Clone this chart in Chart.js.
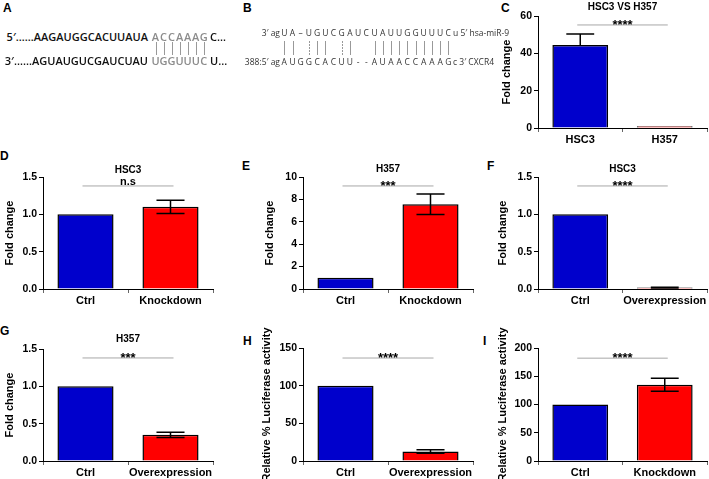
<!DOCTYPE html>
<html>
<head>
<meta charset="utf-8">
<script src="https://cdn.jsdelivr.net/npm/chart.js@4.4.1/dist/chart.umd.min.js"></script>
<style>
	body { margin: 0; background: #fff; }
	#fig { position: relative; width: 709px; height: 479px; overflow: hidden; font-family: "Liberation Sans", Arial, sans-serif; }
	#fig canvas { position: absolute; }
	.lab { position: absolute; font-weight: bold; font-size: 12px; line-height: 12px; }
	.seq { position: absolute; font-family: "Open Sans", sans-serif; font-weight: 600; font-size: 11px; line-height: 12px; white-space: nowrap; color: #111; }
	.mir { position: absolute; font-family: "Open Sans", sans-serif; font-size: 8.5px; line-height: 10px; white-space: nowrap; color: #333; }
	.bar { position: absolute; width: 1px; background: #999; }
</style>
</head>
<body>
<div id="fig">
	<div class="lab" style="left:3px;top:2px">A</div>
	<div class="lab" style="left:243px;top:2px">B</div>
	<div class="lab" style="left:501px;top:2px">C</div>
	<div class="lab" style="left:0px;top:150px">D</div>
	<div class="lab" style="left:242px;top:160px">E</div>
	<div class="lab" style="left:487px;top:160px">F</div>
	<div class="lab" style="left:0px;top:325px">G</div>
	<div class="lab" style="left:243px;top:335px">H</div>
	<div class="lab" style="left:483px;top:335px">I</div>
</div>
<script>
// panel C: miR-9 level in the two cell lines
const cellLines = ['HSC3', 'H357'];
const foldC = [44.5, 1.0];
const sdC = [5.9, 0];

// panels D-I
const kdLabels = ['Ctrl', 'Knockdown'];
const oeLabels = ['Ctrl', 'Overexpression'];
const foldD = [1.0, 1.1];
const sdD = [0, 0.09];
const foldE = [1.0, 7.57];
const sdE = [0, 0.92];
const foldF = [1.0, 0.02];
const sdF = [0, 0.005];
const foldG = [1.0, 0.35];
const sdG = [0, 0.035];
const lucH = [100, 12.5];
const sdH = [0, 2.3];
const lucI = [100, 135];
const sdI = [0, 11.5];

// significance marks and the height of their line (axis units)
const sigText = ['****', 'n.s', '***', '****', '***', '****', '****'];
const sigLevel = [55.2, 1.38, 9.2, 1.38, 1.38, 136.7, 182];

// y axis ranges
const yMax = [60, 1.5, 10, 1.5, 1.5, 150, 200];
const yStep = [20, 0.5, 2, 0.5, 0.5, 50, 50];

const BLUE = '#0000CC';
const RED = '#FF0000';
const FONT = 'Liberation Sans';

const panels = [
	{ left: 495, top: 0, w: 214, h: 150, labels: cellLines, data: foldC, sd: sdC, title: 'HSC3 VS H357', tPad: [1, 3], yTitle: 'Fold change', yPad: 5.4, upOnly: true },
	{ left: 0, top: 157, w: 215, h: 154, labels: kdLabels, data: foldD, sd: sdD, title: 'HSC3', tPad: [7, 1], yTitle: 'Fold change', yPad: 3.4, dec: 1 },
	{ left: 260, top: 156, w: 215, h: 155, labels: kdLabels, data: foldE, sd: sdE, title: 'H357', tPad: [7, 2], yTitle: 'Fold change', yPad: 3.4 },
	{ left: 495, top: 156, w: 214, h: 155, labels: oeLabels, data: foldF, sd: sdF, title: 'HSC3', tPad: [7, 2], yTitle: 'Fold change', yPad: 1.4, dec: 1 },
	{ left: 0, top: 327, w: 215, h: 156, labels: oeLabels, data: foldG, sd: sdG, title: 'H357', tPad: [6, 4], yTitle: 'Fold change', yPad: 3.4, dec: 1 },
	{ left: 260, top: 315, w: 215, h: 168, labels: oeLabels, data: lucH, sd: sdH, title: '', padTop: 33, yTitle: 'Relative % Luciferase activity', yPad: 0.4 },
	{ left: 495, top: 315, w: 214, h: 168, labels: kdLabels, data: lucI, sd: sdI, title: '', padTop: 33, yTitle: 'Relative % Luciferase activity', yPad: 1.4 }
];

function marksPlugin(p, k) {
	return {
		id: 'marks' + k,
		afterDatasetsDraw(chart) {
			const ctx = chart.ctx;
			const x = chart.scales.x, y = chart.scales.y;
			const meta = chart.getDatasetMeta(0);
			ctx.save();
			// error bars
			ctx.strokeStyle = '#000';
			ctx.lineWidth = 1.5;
			p.sd.forEach((e, i) => {
				if (!e) return;
				const bar = meta.data[i];
				const v = p.data[i];
				const half = bar.width * 0.25;
				const yt = y.getPixelForValue(v + e);
				const yb = y.getPixelForValue(p.upOnly ? v : v - e);
				ctx.beginPath();
				ctx.moveTo(bar.x, yb);
				ctx.lineTo(bar.x, yt);
				ctx.moveTo(bar.x - half, yt);
				ctx.lineTo(bar.x + half, yt);
				if (!p.upOnly) {
					ctx.moveTo(bar.x - half, yb);
					ctx.lineTo(bar.x + half, yb);
				}
				ctx.stroke();
			});
			// significance line
			const x0 = x.getPixelForValue(0) - 3;
			const x1 = x.getPixelForValue(1) + 3;
			const ys = y.getPixelForValue(sigLevel[k]);
			ctx.strokeStyle = '#a8a8a8';
			ctx.lineWidth = 1;
			ctx.beginPath();
			ctx.moveTo(x0, ys);
			ctx.lineTo(x1, ys);
			ctx.stroke();
			const stars = sigText[k].startsWith('*');
			ctx.fillStyle = '#000';
			ctx.font = 'bold ' + (stars ? 13 : 11) + 'px "' + FONT + '"';
			ctx.textAlign = 'center';
			ctx.textBaseline = 'alphabetic';
			ctx.fillText(sigText[k], (x0 + x1) / 2, ys + (stars ? 4 : -1));
			ctx.restore();
		}
	};
}

panels.forEach((p, k) => {
	const canvas = document.createElement('canvas');
	canvas.width = p.w;
	canvas.height = p.h;
	canvas.style.left = p.left + 'px';
	canvas.style.top = p.top + 'px';
	document.getElementById('fig').appendChild(canvas);

	new Chart(canvas.getContext('2d'), {
		type: 'bar',
		data: {
			labels: p.labels,
			datasets: [{
				data: p.data,
				backgroundColor: [BLUE, RED],
				borderColor: '#000',
				borderWidth: 1.5,
				barPercentage: 0.66,
				categoryPercentage: 1
			}]
		},
		options: {
			responsive: false,
			animation: false,
			layout: { padding: { top: p.padTop || 0, right: 2, left: 0, bottom: 0 } },
			plugins: {
				legend: { display: false },
				tooltip: { enabled: false },
				title: {
					display: !!p.title,
					text: p.title,
					fullSize: false,
					color: '#000',
					font: { family: FONT, size: 10, weight: 'bold' },
					padding: p.tPad ? { top: p.tPad[0], bottom: p.tPad[1] } : 0
				}
			},
			scales: {
				x: {
					afterFit: s => { s.height = 22; },
					grid: { drawOnChartArea: false, color: '#666', tickLength: 4 },
					border: { color: '#000', width: 1 },
					ticks: {
						color: '#000',
						padding: 1,
						maxRotation: 0,
						minRotation: 0,
						autoSkip: false,
						font: { family: FONT, size: 11, weight: 'bold' }
					}
				},
				y: {
					min: 0,
					max: yMax[k],
					afterFit: s => { s.width = 43; },
					grid: { drawOnChartArea: false, color: '#000', tickLength: 4 },
					border: { color: '#000', width: 1 },
					ticks: {
						stepSize: yStep[k],
						padding: 2,
						color: '#000',
						font: { family: FONT, size: 10.5, weight: 'bold' },
						callback: v => p.dec ? v.toFixed(p.dec) : v
					},
					title: {
						display: true,
						text: p.yTitle,
						color: '#000',
						padding: { top: p.yPad, bottom: 0 },
						font: { family: FONT, size: 11, weight: 'bold' }
					}
				}
			}
		},
		plugins: [marksPlugin(p, k)]
	});
});

// panels A and B: sequence alignments, plain text
const fig = document.getElementById('fig');
function put(cls, text, css) {
	const d = document.createElement('div');
	d.className = cls;
	d.textContent = text;
	Object.assign(d.style, css);
	fig.appendChild(d);
	return d;
}
function centred(cls, text, cx, top, color) {
	put(cls, text, { left: (cx - 10) + 'px', top: top + 'px', width: '20px', textAlign: 'center', color: color || '' });
}

// A
put('seq', '5\u2032\u2026\u2026AAGAUGGCACUUAUA', { right: (709 - 148) + 'px', top: '31px' });
put('seq', '3\u2032\u2026\u2026AGUAUGUCGAUCUAU', { right: (709 - 148) + 'px', top: '55px' });
'ACCAAAG'.split('').forEach((c, i) => centred('seq', c, 155.5 + i * 8.05, 31, '#8c8c8c'));
'UGGUUUC'.split('').forEach((c, i) => centred('seq', c, 155.5 + i * 8.05, 55, '#8c8c8c'));
for (let i = 0; i < 7; i++) {
	const b = document.createElement('div');
	b.className = 'bar';
	Object.assign(b.style, { left: Math.round(155.5 + i * 8.05) + 'px', top: '42px', height: '13px' });
	fig.appendChild(b);
}
put('seq', 'C\u2026', { left: '210px', top: '31px' });
put('seq', 'U\u2026', { left: '210px', top: '55px' });

// B
const mirRow = ['U','A','\u2013','U','G','U','C','G','A','U','C','U','A','U','U','G','G','U','U','U','C'];
const cxRow = ['A','U','G','G','C','A','C','U','U','-','-','A','U','A','A','C','C','A','A','A','G'];
const paired = [1,1,0,2,1,1,0,2,1,0,0,1,1,1,1,1,1,1,1,1,1];
put('mir', '3\u2032 ag', { right: (709 - 280) + 'px', top: '28px' });
put('mir', '388:5\u2032 ag', { right: (709 - 280) + 'px', top: '57px' });
mirRow.forEach((c, i) => centred('mir', c, 284.3 + i * 8.2, 28));
cxRow.forEach((c, i) => centred('mir', c, 284.3 + i * 8.2, 57));
paired.forEach((t, i) => {
	if (!t) return;
	const b = document.createElement('div');
	b.className = 'bar';
	Object.assign(b.style, { left: Math.round(284.3 + i * 8.2) + 'px', top: '41px', height: '14px' });
	if (t === 2) b.style.background = 'repeating-linear-gradient(#999 0 2px, transparent 2px 3px)';
	fig.appendChild(b);
});
put('mir', 'u 5\u2032 hsa-miR-9', { left: '453px', top: '28px' });
put('mir', 'c 3\u2032 CXCR4', { left: '453px', top: '57px' });
</script>
</body>
</html>
